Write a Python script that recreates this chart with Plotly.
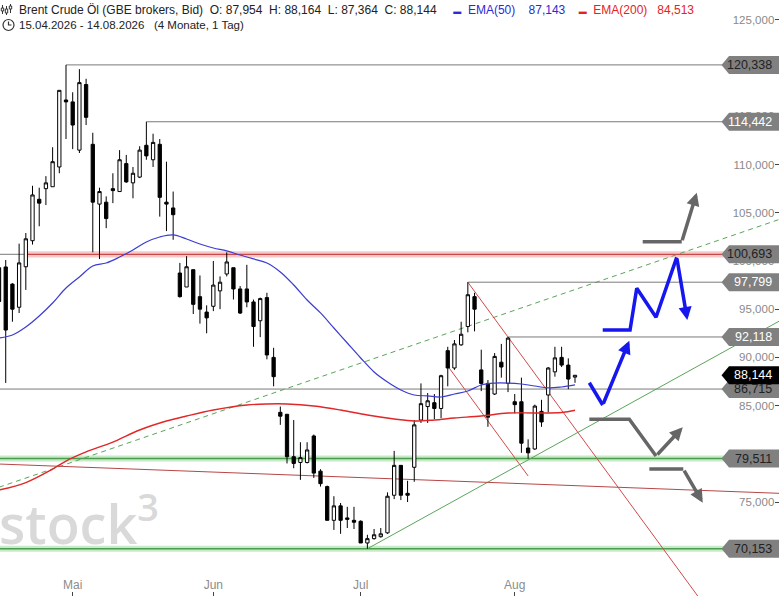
import pandas as pd
import plotly.graph_objects as go

# Brent Crude Oel (GBE brokers, Bid), daily candles
# trading days from 16.04.2026; the days after 14.08. are the empty space on the right
days = pd.bdate_range("2026-04-16", "2026-10-30")
n_candles = 87

opens = [99.3, 99.38, 97.6, 95.2, 99.4, 102.1, 106.4, 107.5, 107.7, 109.75,
         116.7, 116.5, 111.5, 118.3, 112.1, 105.9, 106.1, 107.5, 107.2, 110.1,
         108.1, 108.7, 112.0, 110.5, 112.1, 106.1, 105.5, 98.75, 97.3, 99.1,
         96.3, 94.7, 95.3, 96.9, 98.65, 99.3, 97.1, 97.1, 95.75, 93.8,
         96.2, 90.0, 84.3, 84.1, 79.7, 79.1, 79.1, 81.85, 78.2, 76.6,
         73.1, 74.6, 73.35, 73.1, 73.0, 70.75, 71.2, 71.4, 71.8, 75.7,
         78.8, 75.9, 78.6, 83.5, 84.9, 85.3, 84.7, 90.7, 88.9, 91.3,
         93.2, 96.3, 88.7, 87.3, 86.2, 89.5, 87.3, 85.4, 85.4, 80.6,
         80.5, 84.4, 86.1, 88.5, 90.0, 89.2, 87.954]
highs = [100.2, 100.1, 97.7, 101.8, 102.9, 107.8, 107.6, 108.8, 111.8, 117.7,
         120.338, 117.5, 119.9, 118.9, 113.3, 107.6, 106.7, 109.1, 111.5, 111.0,
         109.75, 111.9, 114.442, 113.2, 112.65, 110.3, 107.2, 99.8, 100.5, 99.1,
         98.5, 95.4, 100.0, 98.4, 100.9, 99.3, 97.4, 99.6, 96.0, 96.2,
         96.7, 91.0, 84.9, 84.1, 83.5, 81.2, 81.2, 82.0, 78.4, 76.7,
         75.6, 74.9, 74.5, 74.5, 73.1, 71.6, 72.2, 72.3, 76.0, 80.3,
         78.8, 77.2, 83.5, 87.3, 86.3, 86.2, 88.2, 91.1, 91.8, 93.7,
         97.799, 96.7, 90.8, 87.65, 90.45, 91.4, 92.118, 86.2, 87.9, 81.5,
         85.1, 85.6, 89.0, 91.1, 91.1, 89.9, 88.164]
lows = [94.8, 87.35, 93.7, 94.6, 97.0, 101.7, 103.6, 105.8, 107.7, 109.1,
        112.65, 111.6, 111.2, 114.1, 100.9, 100.2, 103.4, 106.0, 107.2, 108.1,
        106.5, 108.6, 110.5, 109.75, 104.6, 103.1, 102.2, 96.2, 97.3, 94.5,
        93.5, 92.5, 94.8, 95.0, 98.4, 96.0, 94.5, 95.2, 91.1, 92.1,
        89.8, 87.0, 83.0, 79.0, 78.5, 77.3, 79.0, 77.5, 76.6, 73.1,
        72.1, 71.7, 72.3, 72.2, 70.75, 70.153, 71.1, 71.3, 71.7, 75.3,
        75.2, 75.0, 77.1, 83.2, 83.2, 83.6, 83.7, 87.0, 88.7, 91.2,
        92.6, 92.7, 86.5, 82.8, 86.1, 87.9, 86.4, 84.2, 80.1, 79.5,
        80.4, 82.8, 84.3, 88.0, 89.0, 86.7, 87.364]
closes = [95.8, 92.84, 95.0, 99.8, 102.3, 106.85, 106.0, 108.1, 110.3, 117.7,
          116.5, 114.1, 118.5, 114.9, 106.1, 107.2, 104.4, 107.3, 110.5, 108.2,
          109.1, 111.5, 110.9, 112.3, 106.6, 105.9, 104.8, 96.3, 99.4, 95.5,
          95.0, 94.1, 97.5, 97.8, 99.9, 97.1, 94.6, 95.75, 93.2, 96.1,
          90.25, 88.0, 83.9, 79.7, 79.0, 79.6, 80.4, 78.0, 76.9, 73.1,
          74.6, 73.1, 73.2, 72.9, 70.75, 71.2, 71.6, 71.7, 75.6, 78.8,
          75.7, 75.7, 83.0, 85.2, 85.5, 84.7, 88.1, 88.9, 91.4, 92.4,
          96.5, 95.0, 87.3, 83.8, 90.1, 89.0, 92.0, 85.1, 81.1, 80.1,
          84.95, 83.3, 88.9, 89.95, 89.2, 87.75, 88.144]

# moving averages, read at these trading days
ema50_days = list(range(0, 87, 2))
ema50 = [92.01, 92.32, 93.15, 94.29, 95.64, 97.20, 98.34, 99.48, 99.79, 100.41,
         101.14, 101.97, 102.49, 102.70, 102.28, 101.76, 101.35, 101.04, 100.62, 100.21,
         99.79, 98.86, 97.51, 95.95, 94.61, 93.05, 91.49, 89.94, 88.49, 87.45,
         86.62, 86.10, 86.00, 85.89, 86.20, 86.51, 87.14, 87.34, 87.34, 87.24,
         87.03, 86.83, 86.93, 87.143]
ema200_days = [0, 4, 8, 10, 13, 17, 21, 25, 28, 32, 37, 40, 43, 47, 51, 55, 59, 62,
               65, 68, 72, 76, 80, 84, 86]
ema200 = [76.24, 77.02, 78.42, 79.25, 80.19, 81.22, 82.47, 83.40, 83.92, 84.54,
          85.06, 85.17, 85.17, 84.96, 84.54, 84.02, 83.61, 83.40, 83.51, 83.71,
          83.92, 84.23, 84.23, 84.28, 84.513]

# horizontal levels: value, first trading day, style, badge text colour
levels = [
    (120.338, 10, "gray", "#222222"),
    (114.442, 22, "gray", "white"),
    (100.693, 4, "red", "#222222"),
    (97.799, 70, "gray", "white"),
    (92.118, 76, "gray", "white"),
    (86.715, 0, "gray", "#222222"),
    (79.511, 0, "green", "#222222"),
    (70.153, 0, "green", "#222222"),
]
last_price = 88.144

# trend lines: (day, value) -> (day, value), colour, dash
trendlines = [
    ((0, 76.53), (121, 105.86), "#5aa55a", "5px,4px"),
    ((55, 70.153), (121, 96.26), "#5aa55a", None),
    ((70, 97.799), (110, 59.87), "#d24a4a", None),
    ((67, 89.1), (79, 77.7), "#d24a4a", None),
    ((0, 78.94), (121, 75.73), "#b84646", None),
]

# scenario arrows drawn on the chart: path points, then arrow tip
arrows = [
    ([(96.11, 102.0), (101.94, 102.0)], (104.18, 107.09), "#666666"),
    ([(88.14, 83.58), (94.11, 83.58), (98.10, 79.77)], (102.09, 82.75), "#666666"),
    ([(97.10, 78.42), (102.17, 78.42)], (105.07, 74.93), "#666666"),
    ([(88.14, 87.37), (90.14, 85.06)], (94.11, 91.73), "#1616ee"),
    ([(90.14, 92.84), (94.22, 92.84), (95.22, 97.17), (98.10, 94.16), (101.19, 100.38)],
     (102.77, 93.88), "#1616ee"),
]

y_ticks = [70, 75, 80, 85, 90, 95, 100, 105, 110, 115, 120, 125]
month_ticks = ["2026-05-01", "2026-06-01", "2026-07-01", "2026-08-03"]
month_names = ["Mai", "Jun", "Jul", "Aug"]

W, H = 779, 596


def at(i):
    # trading day number (can be fractional) -> time on the x axis
    whole = int(i)
    return days[whole] + pd.Timedelta(days=i - whole)


def fmt(v):
    return "{:.3f}".format(v).replace(".", ",")


def px(x):
    return x / W


def py(y):
    return 1 - y / H


def nb(k):
    return "\u00a0" * k


def build():
    fig = go.Figure()

    fig.add_trace(go.Candlestick(
        x=days[:n_candles], open=opens, high=highs, low=lows, close=closes,
        increasing=dict(fillcolor="white", line=dict(color="black", width=1)),
        decreasing=dict(fillcolor="black", line=dict(color="black", width=1)),
        whiskerwidth=0, hoverinfo="skip",
    ))
    fig.add_trace(go.Scatter(x=[days[i] for i in ema200_days], y=ema200, mode="lines",
                             line=dict(color="#e02828", width=1.4, shape="spline"),
                             hoverinfo="skip"))
    fig.add_trace(go.Scatter(x=[days[i] for i in ema50_days], y=ema50, mode="lines",
                             line=dict(color="#3c3cd2", width=1.2, shape="spline"),
                             hoverinfo="skip"))

    shapes = []
    annotations = []

    for v, start, kind, txt_color in levels:
        if kind == "red":
            shapes.append(dict(type="line", xref="x", yref="y", x0=at(0), x1=at(start),
                               y0=v, y1=v, line=dict(color="#7a7a7a", width=1), layer="below"))
        if kind in ("red", "green"):
            fill = "rgba(244,170,170,0.65)" if kind == "red" else "rgba(160,222,160,0.6)"
            line_c = "#c84a4a" if kind == "red" else "#4e9a4e"
            shapes.append(dict(type="rect", xref="x", yref="y", x0=at(start), x1=at(121),
                               y0=v - 0.32, y1=v + 0.32, fillcolor=fill, line=dict(width=0),
                               layer="below"))
            shapes.append(dict(type="line", xref="x", yref="y", x0=at(start), x1=at(121),
                               y0=v, y1=v, line=dict(color=line_c, width=1.3), layer="below"))
        else:
            shapes.append(dict(type="line", xref="x", yref="y", x0=at(start), x1=at(121),
                               y0=v, y1=v, line=dict(color="#7a7a7a", width=1), layer="below"))

    for (i0, v0), (i1, v1), color, dash in trendlines:
        shapes.append(dict(type="line", xref="x", yref="y", x0=at(i0), y0=v0, x1=at(i1), y1=v1,
                           line=dict(color=color, width=1, dash=dash), layer="below"))

    for path, tip, color in arrows:
        fig.add_trace(go.Scatter(x=[at(p[0]) for p in path], y=[p[1] for p in path],
                                 mode="lines", line=dict(color=color, width=3.5),
                                 hoverinfo="skip"))
        tail = path[-1]
        annotations.append(dict(x=at(tip[0]), y=tip[1], ax=at(tail[0]), ay=tail[1],
                                xref="x", yref="y", axref="x", ayref="y", text="",
                                showarrow=True, arrowhead=2, arrowsize=0.75,
                                arrowwidth=3.5, arrowcolor=color, standoff=0))

    # price badges on the right edge
    half = 9 / 9.64
    badges = [(v, "#808080", c) for v, _, _, c in levels] + [(last_price, "black", "white")]
    for v, bg, txt_color in badges:
        shapes.append(dict(type="path", xref="paper", yref="y", layer="above",
                           path="M {a},{y} L {b},{t} L 1,{t} L 1,{bt} L {b},{bt} Z".format(
                               a=px(721.5), b=px(729), y=v, t=v + half, bt=v - half),
                           fillcolor=bg, line=dict(width=0)))
        annotations.append(dict(xref="paper", yref="y", x=1, y=v, xanchor="right",
                                yanchor="middle", xshift=-5, showarrow=False, text=fmt(v),
                                font=dict(size=12.5, color=txt_color)))

    # header icons
    for cx, top, bot, b0, b1 in [(2.5, 5, 14, 8, 11), (6.5, 6, 15, 9, 13), (10.5, 4, 13, 6, 9)]:
        shapes.append(dict(type="line", xref="paper", yref="paper", x0=px(cx), x1=px(cx),
                           y0=py(top), y1=py(bot), line=dict(color="#333", width=1)))
        shapes.append(dict(type="rect", xref="paper", yref="paper", x0=px(cx - 1.2),
                           x1=px(cx + 1.2), y0=py(b0), y1=py(b1), fillcolor="white",
                           line=dict(color="#333", width=1)))
    shapes.append(dict(type="circle", xref="paper", yref="paper", x0=px(3), x1=px(14),
                       y0=py(19.5), y1=py(30.5), line=dict(color="#333", width=1.2)))
    shapes.append(dict(type="path", xref="paper", yref="paper",
                       path="M {0},{1} L {0},{2} L {3},{2}".format(px(8.5), py(21.5), py(25), px(11.5)),
                       line=dict(color="#333", width=1.2)))

    dash = "<span style='font-size:8px'>▬</span>"
    line1 = ("Brent Crude Öl (GBE brokers, Bid)" + nb(2) + "O: 87,954" + nb(2) + "H: 88,164" +
             nb(2) + "L: 87,364" + nb(2) + "C: 88,144" + nb(5) +
             "<span style='color:#2a2ad8'>" + dash + nb(2) + "EMA(50)" + nb(4) + "87,143</span>" +
             nb(4) +
             "<span style='color:#e42222'>" + dash + nb(2) + "EMA(200)" + nb(3) + "84,513</span>")
    line2 = "15.04.2026 - 14.08.2026" + nb(3) + "(4 Monate, 1 Tag)"
    annotations.append(dict(xref="paper", yref="paper", x=px(17), y=py(9.5), xanchor="left",
                            yanchor="middle", showarrow=False, text=line1,
                            font=dict(size=12, color="#222")))
    annotations.append(dict(xref="paper", yref="paper", x=px(17), y=py(25.5), xanchor="left",
                            yanchor="middle", showarrow=False, text=line2,
                            font=dict(size=11.5, color="#222")))
    # watermark
    annotations.append(dict(xref="paper", yref="paper", x=0, y=py(520), xanchor="left",
                            yanchor="middle", xshift=-3, showarrow=False,
                            text="stock<sup>3</sup>",
                            font=dict(size=54, color="#d9d9d9", family="Open Sans",
                                      weight=600)))

    fig.update_layout(
        width=W, height=H, margin=dict(l=0, r=0, t=0, b=0),
        paper_bgcolor="white", plot_bgcolor="white", showlegend=False,
        font=dict(family="Liberation Sans, Arial, sans-serif"),
        shapes=shapes, annotations=annotations,
        xaxis=dict(type="date", range=[at(0.145), at(116.46)],
                   rangebreaks=[dict(bounds=["sat", "mon"])],
                   rangeslider=dict(visible=False), showgrid=False, zeroline=False,
                   showline=False, tickvals=month_ticks, ticktext=month_names,
                   ticks="inside", ticklen=4, tickcolor="#444",
                   ticklabelposition="inside", tickfont=dict(size=12, color="#8c8c8c")),
        yaxis=dict(range=[65.25, 127.07], side="right", showgrid=False, zeroline=False,
                   showline=False, tickvals=y_ticks,
                   ticktext=["{},000".format(t) for t in y_ticks],
                   ticks="inside", ticklen=4, tickcolor="#444",
                   ticklabelposition="inside", tickfont=dict(size=11.5, color="#8a8a8a")),
    )
    return fig


def main():
    fig = build()
    fig.write_html("out.html", config={"displayModeBar": False},
                   post_script="document.body.style.margin='0';")


main()
